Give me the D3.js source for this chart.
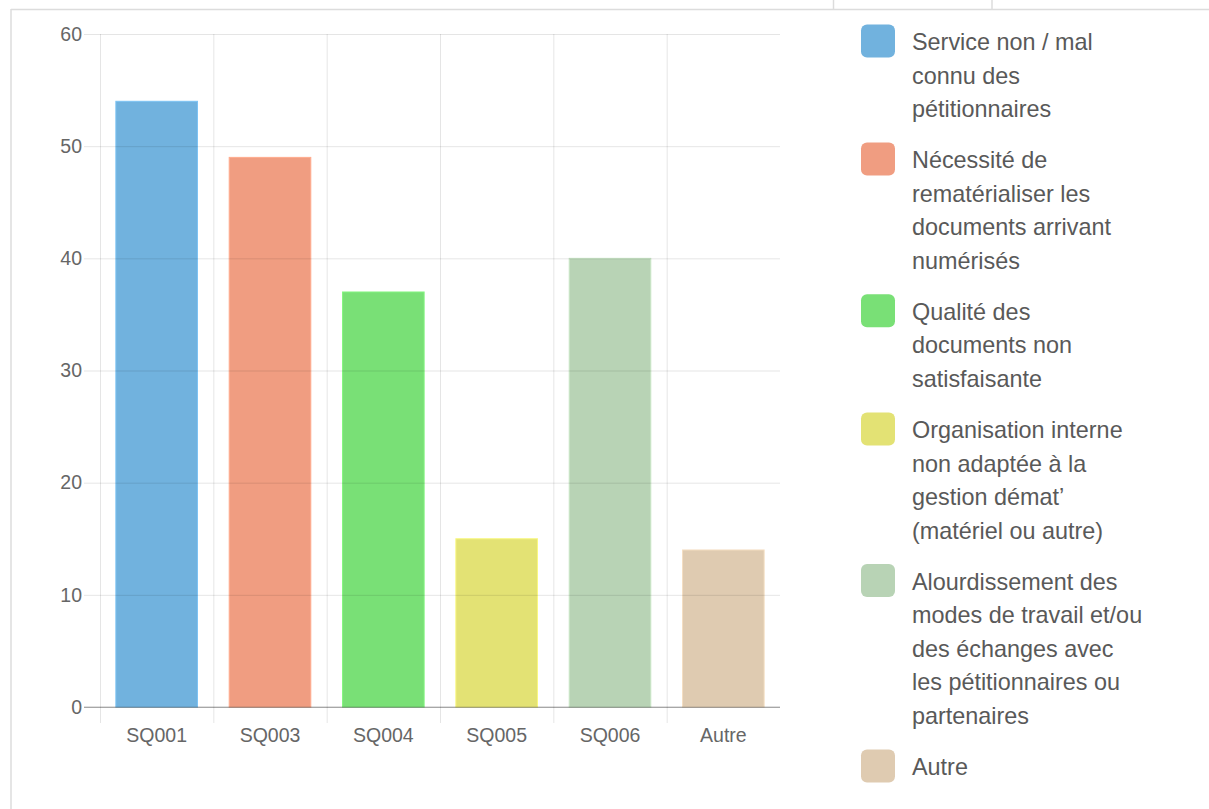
<!DOCTYPE html>
<html>
<head>
<meta charset="utf-8">
<script src="https://cdn.jsdelivr.net/npm/d3@7"></script>
<style>
  html, body { margin: 0; padding: 0; background: #fff; }
  svg { display: block; }
</style>
</head>
<body>
<svg id="chart" width="1209" height="809"></svg>
<script>
// Categories and counts
const categories = ["SQ001", "SQ003", "SQ004", "SQ005", "SQ006", "Autre"];
const counts = [54, 49, 37, 15, 40, 14];
const yTicks = [0, 10, 20, 30, 40, 50, 60];
const colors = ["#71b2de", "#f09d81", "#79e076", "#e3e274", "#b8d3b5", "#dfcbb1"];

// Legend labels, one array of lines per entry
const legendLabels = [
  ["Service non / mal", "connu des", "pétitionnaires"],
  ["Nécessité de", "rematérialiser les", "documents arrivant", "numérisés"],
  ["Qualité des", "documents non", "satisfaisante"],
  ["Organisation interne", "non adaptée à la", "gestion démat’", "(matériel ou autre)"],
  ["Alourdissement des", "modes de travail et/ou", "des échanges avec", "les pétitionnaires ou", "partenaires"],
  ["Autre"]
];

const svg = d3.select("#chart");
const font = "'Liberation Sans', Arial, Helvetica, sans-serif";

// Surrounding frame lines
const frame = svg.append("g").attr("stroke", "#dcdcdc").attr("stroke-width", 1.5);
frame.append("line").attr("x1", 11).attr("x2", 1209).attr("y1", 9.5).attr("y2", 9.5);
frame.append("line").attr("x1", 11).attr("x2", 11).attr("y1", 9).attr("y2", 809);
frame.append("line").attr("x1", 833.5).attr("x2", 833.5).attr("y1", 0).attr("y2", 9);
frame.append("line").attr("x1", 992).attr("x2", 992).attr("y1", 0).attr("y2", 9);

// Plot area
const plotLeft = 100, plotRight = 780, plotTop = 34, plotBottom = 707;
const x = d3.scaleBand().domain(categories).range([plotLeft, plotRight]);
const y = d3.scaleLinear().domain([0, 60]).range([plotBottom, plotTop]);
const bw = x.bandwidth();

const gridColor = "rgba(0,0,0,0.1)";
const zeroColor = "rgba(0,0,0,0.25)";

// Bars
svg.append("g").selectAll("rect")
  .data(categories)
  .join("rect")
  .attr("x", (d) => x(d) + bw * 0.14)
  .attr("width", bw * 0.72)
  .attr("y", (d, i) => y(counts[i]))
  .attr("height", (d, i) => y(0) - y(counts[i]))
  .attr("fill", (d, i) => colors[i])
  .attr("stroke", (d, i) => d3.color(colors[i]).brighter(0.25))
  .attr("stroke-width", 1);

// Horizontal grid + y axis ticks
const yAxis = d3.axisLeft(y).tickValues(yTicks).tickSize(16).tickPadding(2);
const gy = svg.append("g").attr("transform", `translate(${plotLeft},0)`).call(yAxis);
gy.select(".domain").remove();
gy.selectAll(".tick line")
  .attr("x2", plotRight - plotLeft)
  .attr("x1", -16)
  .attr("stroke", (d) => d === 0 ? zeroColor : gridColor);
gy.selectAll(".tick text")
  .attr("fill", "#666")
  .style("font-family", font)
  .style("font-size", "19.5px");

// Vertical grid at category boundaries, with tick extensions
const edges = categories.map((c) => x(c));
svg.append("g").selectAll("line")
  .data(edges)
  .join("line")
  .attr("x1", (d) => d + 0.5).attr("x2", (d) => d + 0.5)
  .attr("y1", plotTop).attr("y2", plotBottom + 16)
  .attr("stroke", gridColor);

// Zero line drawn on top
svg.append("line")
  .attr("x1", plotLeft - 16).attr("x2", plotRight)
  .attr("y1", y(0)).attr("y2", y(0))
  .attr("stroke", zeroColor).attr("stroke-width", 1.2);

// X axis labels
const xAxis = d3.axisBottom(x).tickSize(0);
const gx = svg.append("g").attr("transform", `translate(0,${plotBottom})`).call(xAxis);
gx.select(".domain").remove();
gx.selectAll(".tick text")
  .attr("fill", "#666")
  .attr("dy", "0")
  .attr("y", 35)
  .style("font-family", font)
  .style("font-size", "19.5px");

// Legend
const lineH = 33.6, gap = 17.3;
let cy = 42;
const legend = svg.append("g");
legendLabels.forEach((lines, i) => {
  const g = legend.append("g");
  g.append("rect")
    .attr("x", 861).attr("y", cy - 17.5)
    .attr("width", 34).attr("height", 33)
    .attr("rx", 6).attr("ry", 6)
    .attr("fill", colors[i]);
  const t = g.append("text")
    .attr("fill", "#595959")
    .style("font-family", font)
    .style("font-size", "23.4px");
  lines.forEach((ln, j) => {
    t.append("tspan")
      .attr("x", 912)
      .attr("y", cy + j * lineH + 8)
      .text(ln);
  });
  cy += lines.length * lineH + gap;
});
</script>
</body>
</html>
